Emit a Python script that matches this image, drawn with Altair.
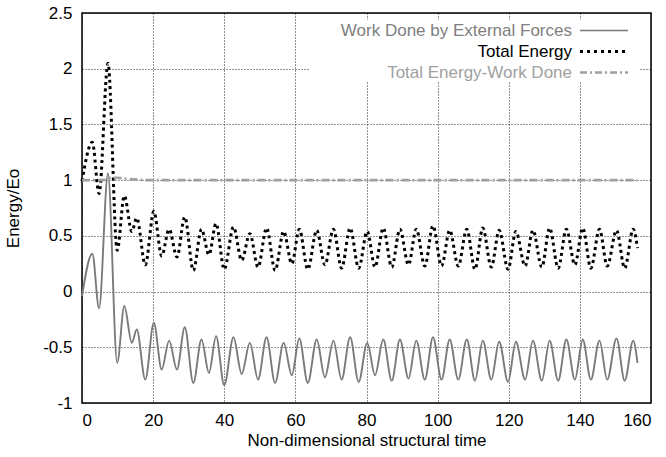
import altair as alt
import pandas as pd

# Times of the turning points (shared by both oscillating curves)
time = [0, 2.9, 4.8, 7.3, 9.9, 11.9, 14.0, 15.4, 17.8, 20.2, 22.4, 24.5, 26.7, 28.9,
        31.3, 33.6, 35.7, 37.7, 40.0, 42.6, 44.9, 47.2, 49.5, 51.9, 54.3, 56.7, 59.0,
        61.1, 63.5, 66.0, 68.3, 70.7, 73.0, 75.4, 77.8, 80.2, 82.4, 84.7, 87.1, 89.4,
        91.8, 94.0, 96.4, 98.7, 101.1, 103.4, 105.8, 108.2, 110.5, 112.7, 115.1, 117.3,
        119.8, 122.0, 124.6, 126.8, 129.3, 131.5, 133.9, 136.2, 138.6, 140.8, 143.1,
        145.5, 147.7, 150.3, 152.6, 155.0, 156.2]

work_done = [-0.04, 0.34, -0.15, 1.06, -0.64, -0.13, -0.46, -0.34, -0.79, -0.28, -0.70,
             -0.44, -0.70, -0.32, -0.82, -0.43, -0.73, -0.40, -0.84, -0.41, -0.74, -0.46,
             -0.79, -0.41, -0.82, -0.46, -0.75, -0.42, -0.82, -0.43, -0.77, -0.44, -0.79,
             -0.41, -0.81, -0.46, -0.75, -0.43, -0.80, -0.43, -0.78, -0.44, -0.79, -0.41,
             -0.79, -0.43, -0.79, -0.43, -0.80, -0.44, -0.79, -0.45, -0.81, -0.45, -0.79,
             -0.44, -0.80, -0.44, -0.80, -0.43, -0.79, -0.43, -0.79, -0.44, -0.79, -0.42,
             -0.80, -0.44, -0.64]

total_energy = [0.99, 1.34, 0.88, 2.05, 0.37, 0.86, 0.54, 0.66, 0.24, 0.72, 0.32, 0.56,
                0.31, 0.67, 0.19, 0.56, 0.33, 0.61, 0.20, 0.58, 0.28, 0.52, 0.22, 0.57,
                0.19, 0.54, 0.25, 0.56, 0.20, 0.55, 0.24, 0.56, 0.21, 0.57, 0.21, 0.54,
                0.22, 0.57, 0.22, 0.56, 0.24, 0.56, 0.23, 0.59, 0.23, 0.55, 0.23, 0.56,
                0.20, 0.57, 0.22, 0.55, 0.20, 0.54, 0.23, 0.55, 0.22, 0.57, 0.21, 0.56,
                0.24, 0.57, 0.21, 0.56, 0.23, 0.55, 0.21, 0.56, 0.39]

diff_time = [0, 6.0, 8.0, 10.0, 13.0, 20.0, 156.2]
diff_vals = [1.0, 1.0, 1.02, 1.02, 1.01, 1.0, 1.0]

x_ticks = [0, 20, 40, 60, 80, 100, 120, 140, 160]
y_ticks = [-1, -0.5, 0, 0.5, 1, 1.5, 2, 2.5]

labels = ["Work Done by External Forces", "Total Energy", "Total Energy-Work Done"]

FONT = "Liberation Sans"
W, H = 569, 390

curves = pd.DataFrame({"t": time, "work": work_done, "energy": total_energy})
diff = pd.DataFrame({"t": diff_time, "v": diff_vals})

xs = alt.Scale(domain=[0, 160], nice=False, zero=False)
ys = alt.Scale(domain=[-1, 2.5], nice=False, zero=False)

x_axis = alt.Axis(values=x_ticks, title="Non-dimensional structural time",
                  labelPadding=9, titleY=29, titleBaseline="top")
y_axis = alt.Axis(values=y_ticks, title="Energy/Eo", labelPadding=10,
                  labelExpr="'' + datum.value", titleX=-60, titleY=H / 2,
                  titleAngle=-90, titleBaseline="bottom", titleAlign="center")

work_line = alt.Chart(curves).mark_line(
    color="#7a7a7a", strokeWidth=1.9, interpolate="monotone"
).encode(
    x=alt.X("t:Q", scale=xs, axis=x_axis),
    y=alt.Y("work:Q", scale=ys, axis=y_axis),
)

energy_line = alt.Chart(curves).mark_line(
    color="black", strokeWidth=3, strokeDash=[3, 3.5], strokeCap="butt",
    interpolate="monotone"
).encode(
    x=alt.X("t:Q", scale=xs, axis=x_axis),
    y=alt.Y("energy:Q", scale=ys, axis=y_axis),
)

diff_line = alt.Chart(diff).mark_line(
    color="#a0a0a0", strokeWidth=2.8, strokeDash=[8, 3, 2, 3], interpolate="monotone"
).encode(
    x=alt.X("t:Q", scale=xs, axis=x_axis),
    y=alt.Y("v:Q", scale=ys, axis=y_axis),
)

one = pd.DataFrame({"k": [0]})

legend_bg = alt.Chart(one).mark_rect(color="white").encode(
    x=alt.value(228), x2=alt.value(558), y=alt.value(7), y2=alt.value(69)
)

row_y = [17.5, 38.5, 59.5]
label_colors = ["#808080", "black", "#a0a0a0"]
legend_layers = [legend_bg]
for lab, yy, col in zip(labels, row_y, label_colors):
    legend_layers.append(
        alt.Chart(one).mark_text(text=lab, align="right", baseline="middle",
                                 font=FONT, fontSize=17, color=col).encode(
            x=alt.value(490), y=alt.value(yy))
    )

legend_layers.append(alt.Chart(one).mark_rule(color="#7a7a7a", strokeWidth=1.6).encode(
    x=alt.value(498), x2=alt.value(546), y=alt.value(row_y[0])))
legend_layers.append(alt.Chart(one).mark_rule(color="black", strokeWidth=3,
                                               strokeDash=[3, 4], strokeCap="butt").encode(
    x=alt.value(498), x2=alt.value(546), y=alt.value(row_y[1])))
legend_layers.append(alt.Chart(one).mark_rule(color="#a0a0a0", strokeWidth=2.5,
                                               strokeDash=[7, 3, 2, 3]).encode(
    x=alt.value(498), x2=alt.value(546), y=alt.value(row_y[2])))

chart = alt.layer(work_line, energy_line, diff_line, *legend_layers).properties(
    width=W, height=H,
    autosize=alt.AutoSizeParams(type="none"),
    padding={"left": 82, "top": 13, "right": 15, "bottom": 54},
    background="white",
).configure_view(
    stroke="black", strokeWidth=1.5
).configure_axis(
    labelFont=FONT, labelFontSize=17, labelColor="black",
    titleFont=FONT, titleFontSize=17, titleColor="black", titleFontWeight="normal",
    grid=True, gridColor="black", gridDash=[1, 2], gridWidth=1, gridOpacity=0.85,
    ticks=False, domain=False,
)

chart.save("out.html", embed_options={"renderer": "svg", "actions": False})
